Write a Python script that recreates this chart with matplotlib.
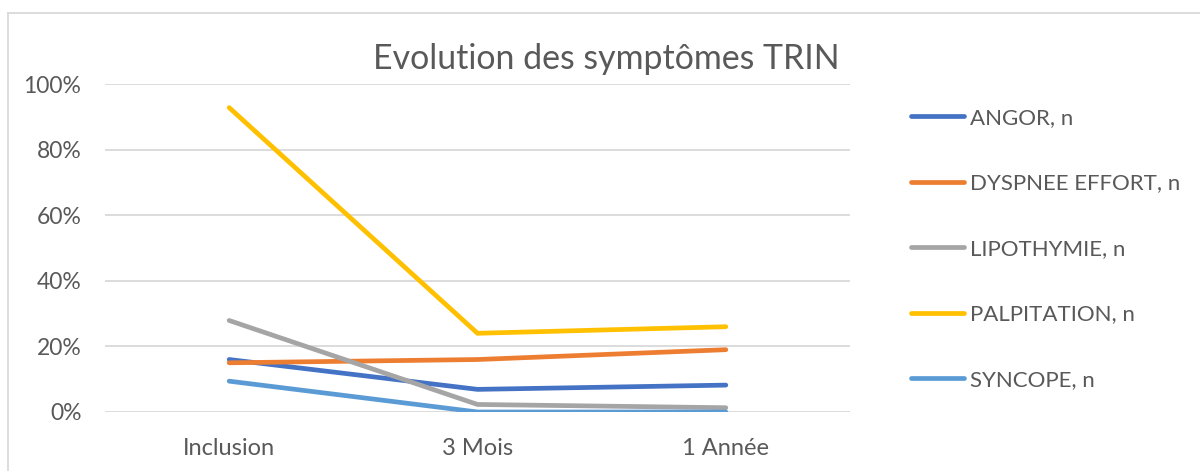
import matplotlib
matplotlib.use("Agg")
import matplotlib.pyplot as plt
from matplotlib.lines import Line2D
from matplotlib.ticker import FuncFormatter

categories = ["Inclusion", "3 Mois", "1 Année"]
series_names = ["ANGOR, n", "DYSPNEE EFFORT, n", "LIPOTHYMIE, n", "PALPITATION, n", "SYNCOPE, n"]
angor = [16.0, 6.9, 8.2]
dyspnee = [15.0, 16.0, 19.0]
lipothymie = [27.9, 2.3, 1.3]
palpitation = [92.8, 24.0, 26.0]
syncope = [9.4, 0.0, 0.0]
yticks = [0, 20, 40, 60, 80, 100]
colors = ["#4472C4", "#ED7D31", "#A5A5A5", "#FFC000", "#5B9BD5"]

plt.rcParams['font.family'] = ['Lato', 'DejaVu Sans']
text_color = "#595959"

W, H = 1200, 471
fig = plt.figure(figsize=(W / 100, H / 100), dpi=100)
ax = fig.add_axes([105 / W, 1 - 412 / H, (850 - 105) / W, (412 - 84) / H])

x = list(range(len(categories)))
all_series = [angor, dyspnee, lipothymie, palpitation, syncope]
for vals, name, c in zip(all_series, series_names, colors):
    ax.plot(x, vals, color=c, lw=3.4, solid_capstyle='round', solid_joinstyle='miter',
            label=name, zorder=3)

ax.set_xlim(-0.5, 2.5)
ax.set_ylim(0, 100)
ax.set_yticks(yticks)
ax.yaxis.set_major_formatter(FuncFormatter(lambda v, p: f"{int(v)}%"))
ax.set_xticks(x)
ax.set_xticklabels(categories)
ax.grid(axis='y', color="#D9D9D9", lw=1.3, zorder=0)
for s in ax.spines.values():
    s.set_visible(False)
ax.tick_params(axis='both', length=0, labelcolor=text_color)
ax.tick_params(axis='y', pad=17, labelsize=16.5)
ax.tick_params(axis='x', pad=19, labelsize=17)

fig.text(606 / W, 1 - 69 / H, "Evolution des symptômes TRIN", ha='center', va='baseline',
         fontsize=24.4, color=text_color)

leg = ax.legend(loc='center left', bbox_to_anchor=(911 / W, 1 - 249 / H),
                bbox_transform=fig.transFigure, frameon=False, fontsize=16,
                handlelength=2.4, handletextpad=0.25, labelspacing=2.05,
                borderpad=0, borderaxespad=0)
for t in leg.get_texts():
    t.set_color(text_color)

# figure border
fig.add_artist(Line2D([8 / W, 1], [1 - 13 / H, 1 - 13 / H], transform=fig.transFigure,
                      color="#D9D9D9", lw=1.3))
fig.add_artist(Line2D([8 / W, 8 / W], [0, 1 - 13 / H], transform=fig.transFigure,
                      color="#D9D9D9", lw=1.3))

fig.savefig("out.png", dpi=100)
